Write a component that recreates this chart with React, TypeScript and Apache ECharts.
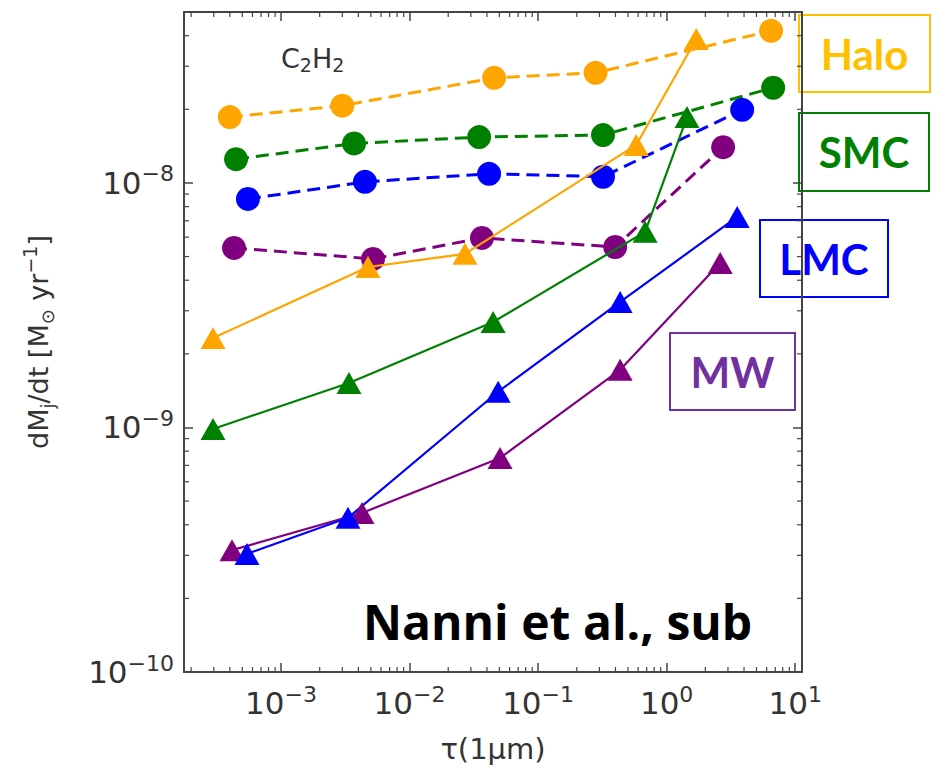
import React, { useEffect, useRef } from "react";
import * as echarts from "echarts";

// Optical depth tau(1um) and C2H2 dust production rate dMj/dt [Msun/yr]
// Dashed lines with circles and solid lines with triangles, per galaxy.
const haloCircTau = [4.0e-4, 3.0e-3, 0.0455, 0.28, 6.5];
const haloCircRate = [1.86e-8, 2.07e-8, 2.69e-8, 2.82e-8, 4.19e-8];
const haloTriTau = [2.96e-4, 4.75e-3, 0.027, 0.58, 1.7];
const haloTriRate = [2.32e-9, 4.53e-9, 5.13e-9, 1.43e-8, 3.88e-8];

const smcCircTau = [4.47e-4, 3.7e-3, 0.0348, 0.32, 6.74];
const smcCircRate = [1.25e-8, 1.45e-8, 1.54e-8, 1.57e-8, 2.45e-8];
const smcTriTau = [2.96e-4, 3.38e-3, 0.0447, 0.68, 1.44];
const smcTriRate = [9.86e-10, 1.52e-9, 2.7e-9, 6.31e-9, 1.86e-8];

const lmcCircTau = [5.53e-4, 4.5e-3, 0.0416, 0.32, 3.87];
const lmcCircRate = [8.6e-9, 1.01e-8, 1.09e-8, 1.06e-8, 1.99e-8];
const lmcTriTau = [5.44e-4, 3.32e-3, 0.0489, 0.435, 3.54];
const lmcTriRate = [3.04e-10, 4.27e-10, 1.4e-9, 3.26e-9, 7.26e-9];

const mwCircTau = [4.31e-4, 5.2e-3, 0.0366, 0.398, 2.75];
const mwCircRate = [5.42e-9, 4.89e-9, 5.96e-9, 5.47e-9, 1.4e-8];
const mwTriTau = [4.16e-4, 4.27e-3, 0.0506, 0.435, 2.61];
const mwTriRate = [3.15e-10, 4.47e-10, 7.5e-10, 1.72e-9, 4.71e-9];

// Labelled decades on each axis
const xTickExponents = [-3, -2, -1, 0, 1];
const yTickExponents = [-10, -9, -8];

const X_MIN = 1.76e-4;
const X_MAX = 11.3;
const Y_MIN = 1e-10;
const Y_MAX = 5e-8;

const ORANGE = "#FFA500";
const GREEN = "#008000";
const BLUE = "#0000FF";
const PURPLE = "#800080";
const FRAME = "#444444";
const TEXT = "#333333";

const minorValues = (lo: number, hi: number) => {
  const out: number[] = [];
  for (let e = -11; e <= 2; e++) {
    for (let m = 2; m <= 9; m++) {
      const v = m * Math.pow(10, e);
      if (v > lo * 1.0001 && v < hi * 0.9999) out.push(v);
    }
  }
  return out;
};

const powerLabel = (exps: number[]) => (v: number) => {
  const e = Math.round(Math.log10(v));
  if (Math.abs(Math.log10(v) - e) > 1e-6 || exps.indexOf(e) < 0) return "";
  return `{b|10}{e|${e < 0 ? "\u2212" : ""}${Math.abs(e)}}`;
};

const tickRich = {
  b: { fontFamily: "DejaVu Sans", fontSize: 31, color: TEXT, lineHeight: 40 },
  e: {
    fontFamily: "DejaVu Sans",
    fontSize: 22,
    color: TEXT,
    lineHeight: 23,
    verticalAlign: "top",
  },
};

const pairs = (xs: number[], ys: number[]) => xs.map((x, i) => [x, ys[i]]);

const circleSeries = (name: string, xs: number[], ys: number[], color: string) => ({
  type: "line",
  name,
  data: pairs(xs, ys),
  symbol: "circle",
  symbolSize: 24,
  itemStyle: { color },
  lineStyle: { color, width: 3, type: [13, 7] },
  z: 3,
});

const triangleSeries = (name: string, xs: number[], ys: number[], color: string) => ({
  type: "line",
  name,
  data: pairs(xs, ys),
  symbol: "triangle",
  symbolSize: [25, 22],
  itemStyle: { color },
  lineStyle: { color, width: 2.2 },
  z: 4,
});

const frameTick = { show: true, inside: true, length: 9, lineStyle: { color: FRAME, width: 1.5 } };
const frameLine = { show: true, lineStyle: { color: FRAME, width: 2 } };

export default function App() {
  const ref = useRef<HTMLDivElement>(null);

  useEffect(() => {
    if (!ref.current) return;
    const chart = echarts.init(ref.current, undefined, { renderer: "svg" });

    const minorX = minorValues(X_MIN, X_MAX).map((v) => [v, Y_MIN]);
    const minorY = minorValues(Y_MIN, Y_MAX).map((v) => [X_MIN, v]);

    const minorTickSeries = (data: number[][], horizontal: boolean) => ({
      type: "custom",
      silent: true,
      clip: false,
      z: 1,
      data,
      renderItem: (params: any, api: any) => {
        const cs = params.coordSys;
        const p = api.coord([api.value(0), api.value(1)]);
        const style = { stroke: FRAME, lineWidth: 1.2 };
        const len = 5;
        if (horizontal) {
          const b = cs.y + cs.height;
          return {
            type: "group",
            children: [
              { type: "line", shape: { x1: p[0], y1: b, x2: p[0], y2: b - len }, style },
              { type: "line", shape: { x1: p[0], y1: cs.y, x2: p[0], y2: cs.y + len }, style },
            ],
          };
        }
        const r = cs.x + cs.width;
        return {
          type: "group",
          children: [
            { type: "line", shape: { x1: cs.x, y1: p[1], x2: cs.x + len, y2: p[1] }, style },
            { type: "line", shape: { x1: r, y1: p[1], x2: r - len, y2: p[1] }, style },
          ],
        };
      },
    });

    const labelBox = (
      x: number,
      y: number,
      w: number,
      h: number,
      text: string,
      color: string
    ) => ({
      type: "group",
      children: [
        {
          type: "rect",
          shape: { x, y, width: w, height: h },
          style: { fill: "#fff", stroke: color, lineWidth: 2 },
        },
        {
          type: "text",
          x: x + w / 2,
          y: y + h / 2,
          style: {
            text,
            fill: color,
            font: "bold 42px Lato",
            align: "center",
            verticalAlign: "middle",
          },
        },
      ],
    });

    chart.setOption({
      animation: false,
      backgroundColor: "#ffffff",
      grid: {
        left: 184,
        top: 12,
        right: 130,
        bottom: 100,
        containLabel: false,
        outerBoundsMode: "none",
      },
      xAxis: [
        {
          type: "log",
          logBase: 10,
          min: X_MIN,
          max: X_MAX,
          position: "bottom",
          axisLine: frameLine,
          axisTick: frameTick,
          splitLine: { show: false },
          axisLabel: {
            margin: 11,
            formatter: powerLabel(xTickExponents),
            rich: tickRich,
            showMinLabel: true,
            showMaxLabel: true,
          },
        },
        {
          type: "log",
          logBase: 10,
          min: X_MIN,
          max: X_MAX,
          position: "top",
          axisLine: frameLine,
          axisTick: frameTick,
          splitLine: { show: false },
          axisLabel: { show: false },
        },
      ],
      yAxis: [
        {
          type: "log",
          logBase: 10,
          min: Y_MIN,
          max: Y_MAX,
          position: "left",
          axisLine: frameLine,
          axisTick: frameTick,
          splitLine: { show: false },
          axisLabel: {
            margin: 10,
            formatter: powerLabel(yTickExponents),
            rich: tickRich,
          },
        },
        {
          type: "log",
          logBase: 10,
          min: Y_MIN,
          max: Y_MAX,
          position: "right",
          axisLine: frameLine,
          axisTick: frameTick,
          splitLine: { show: false },
          axisLabel: { show: false },
        },
      ],
      series: [
        minorTickSeries(minorX, true),
        minorTickSeries(minorY, false),
        circleSeries("Halo dashed", haloCircTau, haloCircRate, ORANGE),
        circleSeries("SMC dashed", smcCircTau, smcCircRate, GREEN),
        circleSeries("LMC dashed", lmcCircTau, lmcCircRate, BLUE),
        circleSeries("MW dashed", mwCircTau, mwCircRate, PURPLE),
        triangleSeries("Halo", haloTriTau, haloTriRate, ORANGE),
        triangleSeries("SMC", smcTriTau, smcTriRate, GREEN),
        triangleSeries("MW", mwTriTau, mwTriRate, PURPLE),
        triangleSeries("LMC", lmcTriTau, lmcTriRate, BLUE),
      ],
      graphic: [
        {
          type: "text",
          left: 281,
          top: 42,
          style: {
            text: "C{s|2}H{s|2}",
            rich: {
              s: { fontFamily: "DejaVu Sans", fontSize: 19, fill: TEXT, lineHeight: 20, verticalAlign: "bottom" },
            },
            font: "27px 'DejaVu Sans'",
            fill: TEXT,
            lineHeight: 32,
          },
        },
        {
          type: "text",
          x: 38,
          y: 342,
          rotation: Math.PI / 2,
          style: {
            text: "dM{s|j}/dt [M{s|\u2299} yr{p|\u22121}]",
            font: "27px 'DejaVu Sans'",
            fill: TEXT,
            align: "center",
            verticalAlign: "middle",
            lineHeight: 36,
            rich: {
              s: { fontFamily: "DejaVu Sans", fontSize: 18, fill: TEXT, lineHeight: 21, verticalAlign: "bottom" },
              p: { fontFamily: "DejaVu Sans", fontSize: 19, fill: TEXT, lineHeight: 21, verticalAlign: "top" },
            },
          },
        },
        {
          type: "text",
          x: 493,
          y: 749,
          style: {
            text: "\u03c4(1\u03bcm)",
            font: "29px 'DejaVu Sans'",
            fill: TEXT,
            align: "center",
            verticalAlign: "middle",
          },
        },
        labelBox(799, 15, 131, 77, "Halo", "#FFC000"),
        labelBox(799, 113, 130, 78, "SMC", "#008000"),
        labelBox(760, 220, 128, 77, "LMC", "#0000FF"),
        labelBox(670, 333, 125, 77, "MW", "#7030A0"),
        {
          type: "text",
          x: 363,
          y: 621,
          style: {
            text: "Nanni et al., sub",
            font: "bold 48px 'Open Sans'",
            fill: "#000000",
            align: "left",
            verticalAlign: "middle",
          },
        },
      ],
    });

    return () => chart.dispose();
  }, []);

  return (
    <div
      ref={ref}
      style={{ position: "absolute", left: 0, top: 0, width: 932, height: 772 }}
    />
  );
}
